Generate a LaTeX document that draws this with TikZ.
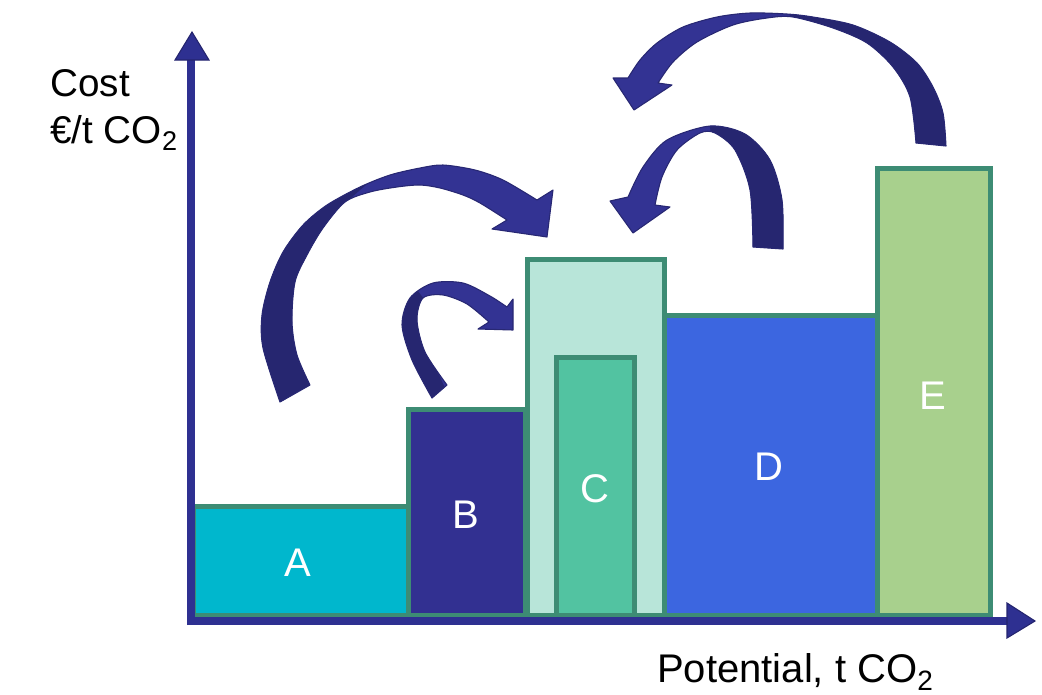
\documentclass[tikz,border=0pt]{standalone}
\usepackage{fontspec}
\setmainfont{Liberation Sans}
\definecolor{bord}{RGB}{61,140,116}
\definecolor{fillA}{RGB}{0,183,205}
\definecolor{fillB}{RGB}{50,48,145}
\definecolor{fillCo}{RGB}{184,229,217}
\definecolor{fillCi}{RGB}{82,195,161}
\definecolor{fillD}{RGB}{60,102,224}
\definecolor{fillE}{RGB}{168,208,141}
\definecolor{axcol}{RGB}{46,48,145}
\definecolor{axedge}{RGB}{36,36,110}
\definecolor{arrlight}{RGB}{51,51,147}
\definecolor{arrdark}{RGB}{38,38,112}
\definecolor{arredge}{RGB}{40,40,115}
\tikzset{
  bar/.style={draw=bord, line width=3.75pt},
  barlbl/.style={text=white, font=\fontsize{30}{36}\selectfont, inner sep=0pt},
  axlbl/.style={text=black, font=\fontsize{29}{35}\selectfont, inner sep=0pt},
  axline/.style={draw=axcol, line width=5.5pt},
  axhead/.style={fill=axcol, draw=axedge, line width=0.8pt, line join=miter},
  arrL/.style={fill=arrlight},
  arrO/.style={draw=arredge, line width=0.8pt, line join=round},
  arrD/.style={fill=arrdark},
}
\begin{document}
\begin{tikzpicture}[x=0.75pt,y=-0.75pt]
\useasboundingbox (0,0) rectangle (1042,694);
% bars
\draw[bar, fill=fillA] (193,506) rectangle (408,615);
\draw[bar, fill=fillB] (408,409) rectangle (525,615);
\draw[bar, fill=fillCo] (527,259) rectangle (664,615);
\draw[bar, fill=fillCi] (556,357) rectangle (634,615);
\draw[bar, fill=fillD] (664,315) rectangle (877,615);
\draw[bar, fill=fillE] (877,168) rectangle (990,615);
% bar labels
\node[barlbl] (lA) at (298,563) {A};
\node[barlbl] (lB) at (466,515) {B};
\node[barlbl] (lC) at (595,489) {C};
\node[barlbl] (lD) at (769,467) {D};
\node[barlbl] (lE) at (933,396) {E};
% axes
\coordinate (O) at (191,621);
\coordinate (ytop) at (191,60);
\coordinate (xend) at (1007,621);
\draw[axline] (191,625) -- (ytop);
\draw[axline] (188,621) -- (xend);
\path[axhead] (175,60) -- (192,32) -- (209,60) -- cycle;
\path[axhead] (1007,603) -- (1035,621) -- (1007,638) -- cycle;
% axis labels
\node[axlbl, anchor=base west] (cost) at (50,96) {Cost};
\node[axlbl, anchor=base west] (unit) at (50,143) {€/t CO\textsubscript{2}};
\node[axlbl, anchor=base west, font=\fontsize{30}{36}\selectfont] (pot) at (657,682) {Potential, t CO\textsubscript{2}};
% curved arrow 1 (A -> C)
\def\shapeA{plot[smooth] coordinates {(280,402) (263,348) (262,315) (270,282) (283,252) (303,225) (327,205) (360,187) (390,175) (420,168) (443,165) (475,170) (503,180) (537,200)}
  -- (553,190) -- (547,237) -- (492,229) -- (507,220)
  -- plot[smooth] coordinates {(507,220) (480,203) (463,195) (440,188) (420,185) (397,187) (370,192) (345,202) (323,228) (307,255) (295,282) (292,322) (297,355) (310,385)} -- cycle}
\path[arrL] \shapeA;
\begin{scope}
\clip \shapeA;
\fill[arrD] (367,184) -- (345,203) -- (322,250) -- (322,420) -- (200,420) -- (200,150) -- (367,150) -- cycle;
\end{scope}
\path[arrO] \shapeA;
% curved arrow 2 (B -> C)
\def\shapeB{plot[smooth] coordinates {(432,398) (412,360) (402,325) (410,298) (433,283) (463,283) (490,296) (507,307)}
  -- (513,299) -- (513,330) -- (478,329) -- (489,322)
  -- plot[smooth] coordinates {(489,322) (467,304) (443,295) (423,298) (417,320) (425,352) (447,385)} -- cycle}
\path[arrL] \shapeB;
\begin{scope}
\clip \shapeB;
\fill[arrD] (414,286) -- (424,299) -- (418,330) -- (460,420) -- (380,420) -- (380,270) -- (405,270) -- cycle;
\end{scope}
\path[arrO] \shapeB;
% curved arrow 3 (D -> C)
\def\shapeC{plot[smooth] coordinates {(783,249) (782,200) (770,160) (745,134) (710,126) (667,140) (643,167) (628,197)}
  -- (610,201) -- (633,233) -- (670,207) -- (655,205)
  -- plot[smooth] coordinates {(655,205) (662,177) (677,150) (700,133) (715,133) (735,150) (750,190) (753,247)} -- cycle}
\path[arrL] \shapeC;
\begin{scope}
\clip \shapeC;
\fill[arrD] (708,115) -- (711,134) -- (742,175) -- (744,270) -- (800,270) -- (800,110) -- cycle;
\end{scope}
\path[arrO] \shapeC;
% curved arrow 4 (E -> C)
\def\shapeD{plot[smooth] coordinates {(946,146) (943,113) (933,87) (917,63) (890,42) (853,25) (813,17) (787,14) (750,13) (717,17) (683,27) (657,43) (640,60) (628,78)}
  -- (613,78) -- (634,110) -- (672,85) -- (658,83)
  -- plot[smooth] coordinates {(658,83) (673,62) (697,42) (733,25) (767,18) (793,17) (833,28) (867,43) (893,67) (910,97) (916,143)} -- cycle}
\path[arrL] \shapeD;
\begin{scope}
\clip \shapeD;
\fill[arrD] (787,0) -- (790,17) -- (880,60) -- (905,160) -- (960,160) -- (960,0) -- cycle;
\end{scope}
\path[arrO] \shapeD;
\end{tikzpicture}
\end{document}
